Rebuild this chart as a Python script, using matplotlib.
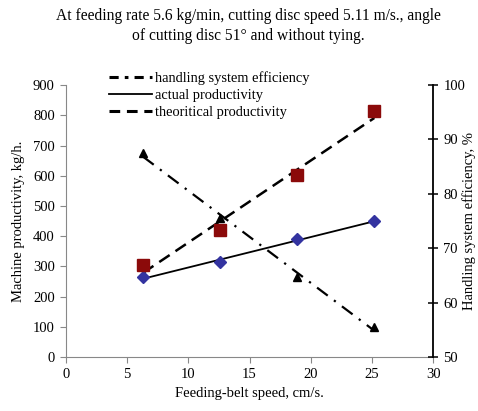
import numpy as np
import matplotlib.pyplot as plt
from matplotlib.lines import Line2D

plt.rcParams['font.family'] = ['Liberation Serif', 'DejaVu Serif']

# feeding-belt speed, cm/s
belt_speed = [6.3, 12.6, 18.9, 25.2]
# machine productivity, kg/h
actual_prod = [264, 314, 390, 450]
theor_prod = [305, 420, 601, 814]
# handling system efficiency, %
efficiency = [87.5, 75.6, 64.7, 55.6]

x_ticks = [0, 5, 10, 15, 20, 25, 30]
left_ticks = [0, 100, 200, 300, 400, 500, 600, 700, 800, 900]
right_ticks = [50, 60, 70, 80, 90, 100]

title = ("At feeding rate 5.6 kg/min, cutting disc speed 5.11 m/s., angle\n"
         "of cutting disc 51\u00b0 and without tying.")

fig = plt.figure(figsize=(4.78, 4.11), dpi=100)
ax = fig.add_axes([0.138, 0.131, 0.768, 0.662])
ax2 = ax.twinx()

xs = np.array(belt_speed)
xfit = np.array([xs.min(), xs.max()])

# linear trend lines
k, b = np.polyfit(xs, actual_prod, 1)
ax.plot(xfit, k * xfit + b, color='black', lw=1.3, zorder=3)
k, b = np.polyfit(xs, theor_prod, 1)
ax.plot(xfit, k * xfit + b, color='black', lw=1.8, dashes=(5, 2.8), zorder=3)
k, b = np.polyfit(xs, efficiency, 1)
ax2.plot(xfit, k * xfit + b, color='black', lw=1.6,
         dashes=(6, 3.5, 1, 3.5), zorder=3)

ax.plot(belt_speed, actual_prod, 'D', color='#3333a0', ms=6.5, zorder=4)
ax.plot(belt_speed, theor_prod, 's', color='#8b0a0a', ms=9, zorder=4)
ax2.plot(belt_speed, efficiency, '^', color='black', ms=6, zorder=4)

ax.set_xlim(0, 30)
ax.set_ylim(0, 900)
ax2.set_ylim(50, 100)
ax.set_xticks(x_ticks)
ax.set_yticks(left_ticks)
ax2.set_yticks(right_ticks)

for a in (ax, ax2):
    a.spines['top'].set_visible(False)
ax.spines['left'].set_color('#888888')
ax.spines['bottom'].set_color('#888888')
ax.spines['right'].set_visible(False)
ax2.spines['left'].set_visible(False)
ax2.spines['bottom'].set_visible(False)
ax2.spines['right'].set_color('black')
ax2.spines['right'].set_linewidth(1.3)

ax.tick_params(axis='both', direction='out', length=4, color='#888888',
               labelsize=10.5, pad=4)
ax2.tick_params(axis='y', direction='inout', length=7, color='black',
                width=1.1, labelsize=10.5, pad=4)

ax.set_xlabel('Feeding-belt speed, cm/s.', fontsize=10.5, labelpad=4)
ax.set_ylabel('Machine productivity, kg/h.', fontsize=10.5, labelpad=6)
ax2.set_ylabel('Handling system efficiency, %', fontsize=10.5,
               rotation=90, va='center', ha='center')
ax2.yaxis.set_label_coords(1.098, 0.5)

fig.text(0.52, 0.98, title, ha='center', va='top', fontsize=11.2,
         linespacing=1.35)

handles = [
    Line2D([], [], color='black', lw=2.2, dashes=(3, 2, 1.2, 2)),
    Line2D([], [], color='black', lw=1.3),
    Line2D([], [], color='black', lw=2.2, dashes=(3.5, 2.2)),
]
labels = ['handling system efficiency', 'actual productivity',
          'theoritical productivity']
fig.legend(handles, labels, loc='upper left', bbox_to_anchor=(0.215, 0.84),
           frameon=False, fontsize=10.4, handlelength=3.0, handletextpad=0.25,
           labelspacing=0.25, borderaxespad=0)

fig.savefig('out.png', dpi=100)
